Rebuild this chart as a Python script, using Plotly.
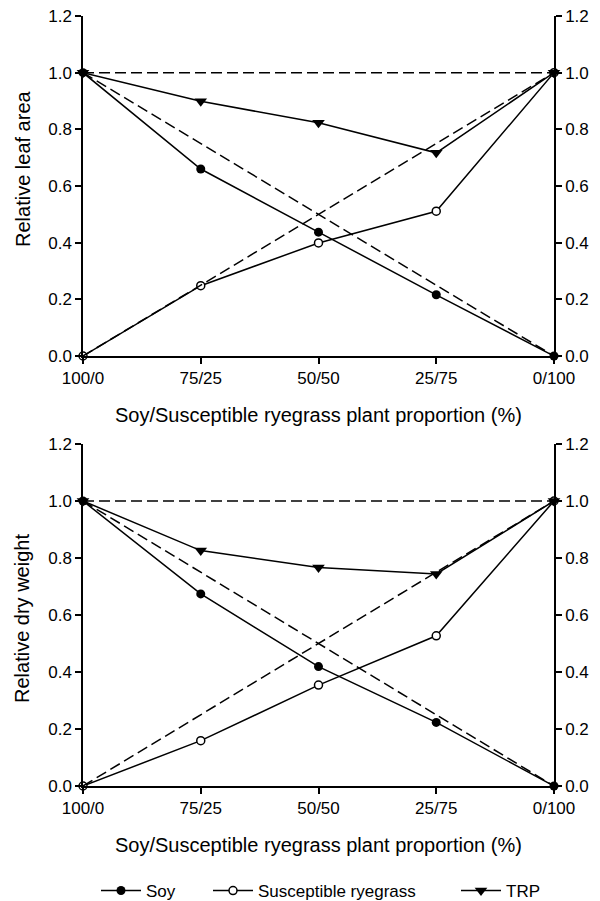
import plotly.graph_objects as go

categories = ["100/0", "75/25", "50/50", "25/75", "0/100"]
xpos = [0, 1, 2, 3, 4]

# Top panel: relative leaf area
leaf_soy = [1.0, 0.66, 0.437, 0.216, 0.0]
leaf_rye = [0.0, 0.248, 0.399, 0.511, 1.0]
leaf_trp = [1.0, 0.899, 0.823, 0.717, 1.0]

# Bottom panel: relative dry weight
dry_soy = [1.0, 0.674, 0.419, 0.223, 0.0]
dry_rye = [0.0, 0.159, 0.354, 0.527, 1.0]
dry_trp = [1.0, 0.826, 0.767, 0.744, 1.0]

# Expected (theoretical) reference lines
ref_soy = [1.0, 0.0]
ref_rye = [0.0, 1.0]
ref_trp = [1.0, 1.0]
ref_x = [0, 4]

y_ticks = [0, 0.2, 0.4, 0.6, 0.8, 1.0, 1.2]

FONT = "Liberation Sans, Arial, sans-serif"
BLACK = "#000000"

fig = go.Figure()

def add_panel(xa, ya, yr, soy, rye, trp, showlegend):
    dash = dict(color=BLACK, width=1.5, dash="11px,5px")
    for ry in (ref_soy, ref_rye, ref_trp):
        fig.add_trace(go.Scatter(x=ref_x, y=ry, mode="lines", line=dash,
                                 xaxis=xa, yaxis=yr, showlegend=False,
                                 hoverinfo="skip", cliponaxis=False))
    fig.add_trace(go.Scatter(x=xpos, y=rye, mode="lines+markers", name="Susceptible ryegrass",
                             line=dict(color=BLACK, width=1.5),
                             marker=dict(symbol="circle", size=8, color="white",
                                         line=dict(color=BLACK, width=1.5)),
                             xaxis=xa, yaxis=ya, showlegend=showlegend, legend="legend2",
                             cliponaxis=False))
    fig.add_trace(go.Scatter(x=xpos, y=soy, mode="lines+markers", name="Soy",
                             line=dict(color=BLACK, width=1.5),
                             marker=dict(symbol="circle", size=9, color=BLACK),
                             xaxis=xa, yaxis=ya, showlegend=showlegend, legend="legend",
                             cliponaxis=False))
    fig.add_trace(go.Scatter(x=xpos, y=trp, mode="lines+markers", name="TRP",
                             line=dict(color=BLACK, width=1.5),
                             marker=dict(symbol="triangle-down", size=11, color=BLACK),
                             xaxis=xa, yaxis=ya, showlegend=showlegend, legend="legend3",
                             cliponaxis=False))

add_panel("x", "y", "y3", leaf_soy, leaf_rye, leaf_trp, True)
add_panel("x2", "y2", "y4", dry_soy, dry_rye, dry_trp, False)

xdom = [83 / 600, 554 / 600]
top_dom = [1 - 356 / 901, 1 - 16 / 901]
bot_dom = [1 - 786 / 901, 1 - 444 / 901]

tickfont = dict(family=FONT, size=17, color=BLACK)

xcommon = dict(domain=xdom, range=[0, 4], tickmode="array", tickvals=xpos,
               ticktext=categories, showline=True, linecolor=BLACK, linewidth=1.5,
               ticks="outside", ticklen=6, tickwidth=1.5, tickcolor=BLACK,
               showgrid=False, zeroline=False, tickfont=tickfont, fixedrange=True,
               automargin=False)
ycommon = dict(range=[0, 1.2], tickmode="array", tickvals=y_ticks, tickformat=".1f",
               showline=True, linecolor=BLACK, linewidth=1.5, ticks="outside",
               ticklen=6, tickwidth=1.5, tickcolor=BLACK, showgrid=False,
               zeroline=False, tickfont=tickfont, fixedrange=True, automargin=False)

legfont = dict(family=FONT, size=17, color=BLACK)
leg_y = 1 - 891 / 901
def leg(xpix):
    return dict(orientation="h", x=xpix / 600, xanchor="left", y=leg_y,
                yanchor="middle", font=legfont, itemwidth=40,
                bgcolor="rgba(0,0,0,0)", borderwidth=0)

title_font = dict(family=FONT, size=20, color=BLACK)
xtitle = "Soy/Susceptible ryegrass plant proportion (%)"

fig.update_layout(
    width=600, height=901,
    margin=dict(l=0, r=0, t=0, b=0, autoexpand=False),
    paper_bgcolor="white", plot_bgcolor="white",
    font=dict(family=FONT, size=17, color=BLACK),
    xaxis=dict(**xcommon, anchor="y"),
    xaxis2=dict(**xcommon, anchor="y2"),
    yaxis=dict(**ycommon, domain=top_dom, anchor="x", side="left"),
    yaxis2=dict(**ycommon, domain=bot_dom, anchor="x2", side="left"),
    yaxis3=dict(**ycommon, overlaying="y", anchor="x", side="right"),
    yaxis4=dict(**ycommon, overlaying="y2", anchor="x2", side="right"),
    showlegend=True,
    legend=leg(96),
    legend2=leg(208),
    legend3=leg(456),
    annotations=[
        dict(text=xtitle, x=318 / 600, y=1 - 415 / 901, xref="paper", yref="paper",
             showarrow=False, font=title_font, xanchor="center", yanchor="middle"),
        dict(text=xtitle, x=318 / 600, y=1 - 845 / 901, xref="paper", yref="paper",
             showarrow=False, font=title_font, xanchor="center", yanchor="middle"),
        dict(text="Relative leaf area", x=23 / 600, y=1 - 169 / 901, xref="paper",
             yref="paper", showarrow=False, textangle=-90, font=title_font,
             xanchor="center", yanchor="middle"),
        dict(text="Relative dry weight", x=22 / 600, y=1 - 619 / 901, xref="paper",
             yref="paper", showarrow=False, textangle=-90, font=title_font,
             xanchor="center", yanchor="middle"),
    ],
)

fig.write_html("out.html")
